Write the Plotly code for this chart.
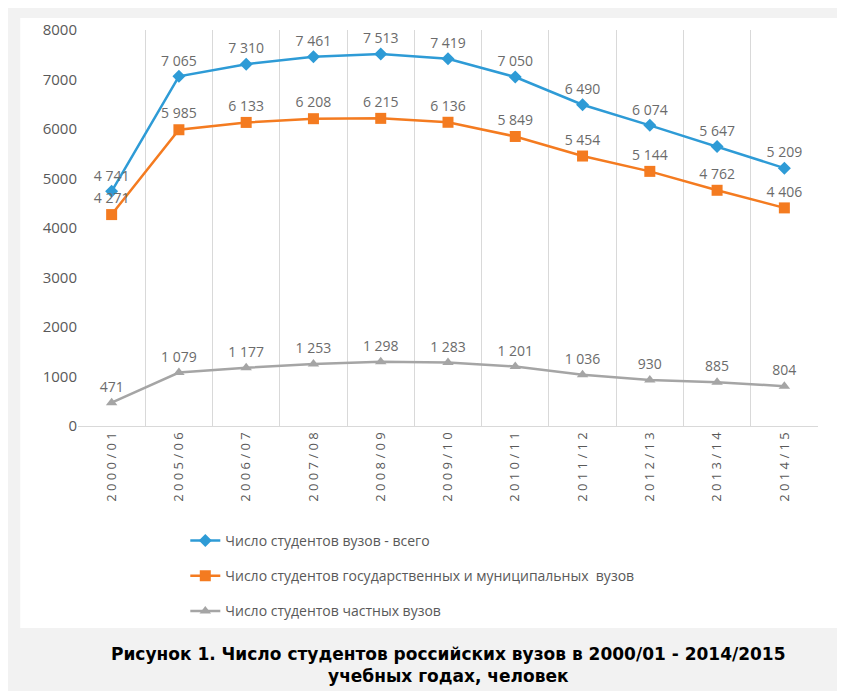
import plotly.graph_objects as go

years = ["2000/01", "2005/06", "2006/07", "2007/08", "2008/09", "2009/10",
         "2010/11", "2011/12", "2012/13", "2013/14", "2014/15"]
total = [4741, 7065, 7310, 7461, 7513, 7419, 7050, 6490, 6074, 5647, 5209]
state = [4271, 5985, 6133, 6208, 6215, 6136, 5849, 5454, 5144, 4762, 4406]
private = [471, 1079, 1177, 1253, 1298, 1283, 1201, 1036, 930, 885, 804]

names = ["Число студентов вузов - всего",
         "Число студентов государственных и муниципальных  вузов",
         "Число студентов частных вузов"]
colors = ["#2e9bd6", "#f47b20", "#a5a5a5"]
symbols = ["diamond", "square", "triangle-up"]
sizes = [10, 11, 10]


def fmt(v):
    return f"{v:,}".replace(",", " ")


fig = go.Figure()
for i, (vals, name, c, s, sz) in enumerate(zip([total, state, private], names, colors, symbols, sizes)):
    fig.add_trace(go.Scatter(
        x=years, y=vals, name=name, mode="lines+markers+text", legendgroup=str(i),
        line=dict(color=c, width=2.5), marker=dict(symbol=s, size=sz, color=c),
        text=[fmt(v) for v in vals], textposition="top center",
        textfont=dict(family="Open Sans", size=14, color="#6b6b6b")))

fig.add_shape(type="rect", xref="paper", yref="paper", x0=-0.078, x1=1.034, y0=-0.51, y1=1.03,
              fillcolor="white", line=dict(width=0), layer="below")

fig.add_annotation(xref="paper", yref="paper", x=0.5, y=-0.545, showarrow=False,
                   text="<b>Рисунок 1. Число студентов российских вузов в 2000/01 - 2014/2015<br>учебных годах, человек</b>",
                   font=dict(family="DejaVu Sans", size=17, color="black"), yanchor="top")

fig.update_layout(
    width=845, height=691,
    margin=dict(l=70, r=35, t=22, b=273, autoexpand=False),
    paper_bgcolor="#f2f2f2", plot_bgcolor="white",
    font=dict(family="Open Sans", color="#595959"),
    showlegend=True,
    legend=dict(x=0.145, y=-0.25, xanchor="left", yanchor="top", bgcolor="rgba(0,0,0,0)",
                font=dict(size=14, color="#595959"), tracegroupgap=14),
    xaxis=dict(type="category", tickson="boundaries", showgrid=True, gridcolor="#d9d9d9",
               tickangle=-90, tickfont=dict(size=13, color="#595959"), automargin=False,
               showline=True, linecolor="#d9d9d9", ticks="", range=[-0.5, 10.5]),
    yaxis=dict(range=[0, 8000], dtick=1000, showgrid=False, zeroline=False, automargin=False,
               tickfont=dict(size=15, color="#595959"), ticks=""),
)
fig.update_xaxes(ticktext=[" ".join(y) for y in years], tickvals=years)

fig.write_html("out.html")
